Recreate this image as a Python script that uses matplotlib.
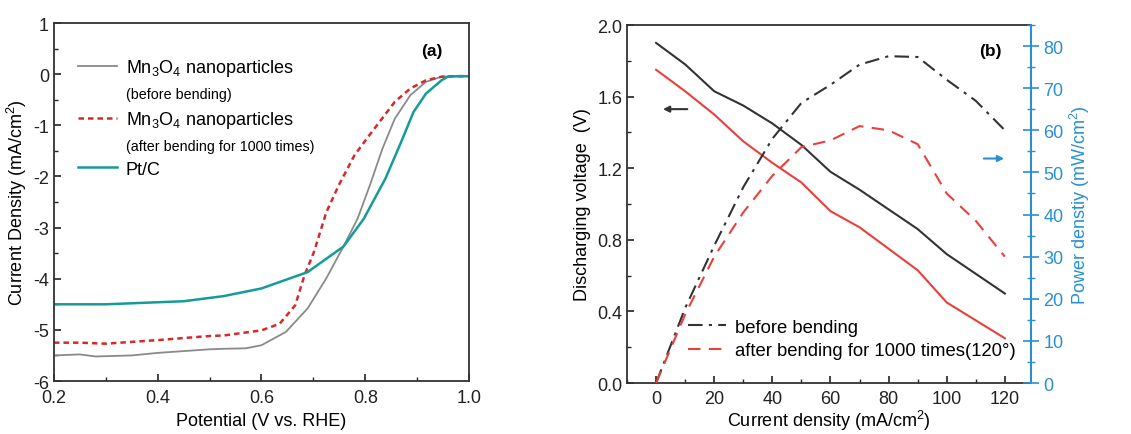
import numpy as np
import matplotlib

matplotlib.use('Agg')
import matplotlib.pyplot as plt
from matplotlib.lines import Line2D
from matplotlib.ticker import MultipleLocator

plt.rcParams['font.family'] = ['Liberation Sans', 'DejaVu Sans']
plt.rcParams['mathtext.fontset'] = 'custom'
plt.rcParams['mathtext.rm'] = 'Liberation Sans'
plt.rcParams['axes.unicode_minus'] = False

# panel (a): LSV curves
pot_grey = [0.20, 0.25, 0.28, 0.35, 0.40, 0.50, 0.527, 0.57, 0.60, 0.647, 0.689, 0.725,
            0.758, 0.785, 0.809, 0.833, 0.857, 0.887, 0.917, 0.947, 0.97, 1.00]
cur_grey = [-5.50, -5.48, -5.52, -5.50, -5.45, -5.38, -5.37, -5.36, -5.30, -5.04, -4.58, -3.99,
            -3.37, -2.83, -2.17, -1.46, -0.87, -0.41, -0.15, -0.05, -0.04, -0.04]
pot_red = [0.20, 0.25, 0.30, 0.40, 0.50, 0.527, 0.60, 0.635, 0.665, 0.683, 0.701, 0.725,
           0.749, 0.779, 0.803, 0.827, 0.857, 0.887, 0.917, 0.947, 0.97, 1.00]
cur_red = [-5.25, -5.25, -5.27, -5.20, -5.12, -5.11, -5.01, -4.88, -4.52, -3.93, -3.48, -2.70,
           -2.17, -1.59, -1.26, -0.94, -0.54, -0.28, -0.12, -0.05, -0.04, -0.04]
pot_pt = [0.20, 0.30, 0.40, 0.45, 0.527, 0.60, 0.689, 0.758, 0.797, 0.839, 0.869, 0.893,
          0.917, 0.947, 0.959, 0.98, 1.00]
cur_pt = [-4.50, -4.50, -4.46, -4.44, -4.34, -4.19, -3.87, -3.37, -2.83, -2.04, -1.33, -0.74,
          -0.38, -0.12, -0.05, -0.04, -0.04]

# panel (b): discharge / power
cd = [0, 10, 20, 30, 40, 50, 60, 70, 80, 90, 100, 110, 120]
volt_before = [1.90, 1.78, 1.63, 1.55, 1.45, 1.33, 1.18, 1.08, 0.97, 0.86, 0.72, 0.61, 0.50]
volt_after = [1.75, 1.63, 1.50, 1.35, 1.23, 1.12, 0.96, 0.87, 0.75, 0.63, 0.45, 0.35, 0.25]
pow_before = [0, 17.8, 32.6, 46.5, 58.0, 66.5, 70.8, 75.6, 77.6, 77.4, 72.0, 67.0, 60.0]
pow_after = [0, 16.3, 30.0, 40.5, 49.2, 56.0, 57.6, 61.0, 60.0, 56.7, 45.0, 38.5, 30.0]

dark = '#333333'
blue = '#2a8fcf'
red_b = '#e8403c'
fs = 13

fig = plt.figure(figsize=(11.31, 4.35), dpi=100)

# ---- (a)
ax = fig.add_axes([0.0477, 0.1218, 0.367, 0.823])
ax.plot(pot_grey, cur_grey, color='#8a8a8a', lw=1.3)
ax.plot(pot_red, cur_red, color='#d42a2a', lw=1.8, ls=(0, (2.2, 1.6)))
ax.plot(pot_pt, cur_pt, color='#169b9b', lw=1.8)
ax.set_xlim(0.2, 1.0)
ax.set_ylim(-6, 1)
ax.xaxis.set_major_locator(MultipleLocator(0.2))
ax.xaxis.set_minor_locator(MultipleLocator(0.1))
ax.yaxis.set_major_locator(MultipleLocator(1))
ax.yaxis.set_minor_locator(MultipleLocator(0.5))
ax.tick_params(which='both', direction='in', labelsize=fs, colors='#222222')
ax.tick_params(which='major', length=5, width=1.2)
ax.tick_params(which='minor', length=3, width=1.0)
ax.tick_params(axis='x', pad=6)
for s in ax.spines.values():
    s.set_linewidth(1.3)
    s.set_color('#333333')
ax.set_xlabel('Potential (V vs. RHE)', fontsize=fs, labelpad=4)
ax.set_ylabel('Current Density (mA/cm$^2$)', fontsize=fs, labelpad=3)
ax.text(0.928, 0.47, '(a)', fontsize=12.5, fontweight='bold', ha='center', va='center')

handles = [Line2D([], [], color='#8a8a8a', lw=1.3),
           Line2D([], [], color='none'),
           Line2D([], [], color='#d42a2a', lw=1.8, ls=(0, (2.2, 1.6))),
           Line2D([], [], color='none'),
           Line2D([], [], color='#169b9b', lw=1.8)]
labels = ['Mn$_3$O$_4$ nanoparticles', '(before bending)',
          'Mn$_3$O$_4$ nanoparticles', '(after bending for 1000 times)', 'Pt/C']
leg = ax.legend(handles, labels, loc='upper left', bbox_to_anchor=(0.058, 0.905),
                frameon=False, fontsize=fs, handlelength=2.15, handletextpad=0.5,
                labelspacing=0.42, borderpad=0, borderaxespad=0)
leg.get_texts()[1].set_fontsize(10.3)
leg.get_texts()[3].set_fontsize(10.3)

# ---- (b)
bx = fig.add_axes([0.5544, 0.1172, 0.3572, 0.823])
bx.plot(cd, volt_before, color=dark, lw=1.5)
bx.plot(cd, volt_after, color=red_b, lw=1.5)
bx.set_xlim(-10, 129)
bx.set_ylim(0, 2.0)
bx.xaxis.set_major_locator(MultipleLocator(20))
bx.xaxis.set_minor_locator(MultipleLocator(10))
bx.yaxis.set_major_locator(MultipleLocator(0.4))
bx.yaxis.set_minor_locator(MultipleLocator(0.2))
bx.tick_params(which='both', direction='in', labelsize=fs, colors='#222222', top=False)
bx.tick_params(which='major', length=5, width=1.2)
bx.tick_params(which='minor', length=3, width=1.0)
bx.tick_params(axis='x', pad=5)
for s in bx.spines.values():
    s.set_linewidth(1.3)
    s.set_color('#333333')
bx.set_xlabel('Current density (mA/cm$^2$)', fontsize=fs, labelpad=1)
bx.set_ylabel('Discharging voltage  (V)', fontsize=fs)
bx.annotate('', xy=(1.4, 1.53), xytext=(11.7, 1.53),
            arrowprops=dict(arrowstyle='-|>', color=dark, lw=1.5, mutation_scale=9))
bx.text(115, 1.855, '(b)', fontsize=12.5, fontweight='bold', ha='center', va='center')

px = bx.twinx()
px.plot(cd, pow_before, color=dark, lw=1.5, ls=(0, (7, 3, 1.5, 3)))
px.plot(cd, pow_after, color=red_b, lw=1.5, ls=(0, (6, 4)))
px.set_ylim(0, 85)
px.yaxis.set_major_locator(MultipleLocator(10))
px.yaxis.set_minor_locator(MultipleLocator(5))
px.tick_params(which='both', direction='inout', labelsize=fs, colors=blue)
px.tick_params(which='major', length=11, width=1.2)
px.tick_params(which='minor', length=6, width=1.0)
px.spines['right'].set_color(blue)
px.spines['right'].set_linewidth(1.5)
for k in ['left', 'top', 'bottom']:
    px.spines[k].set_visible(False)
px.set_ylabel('Power denstiy (mW/cm$^2$)', fontsize=fs, color=blue, labelpad=3)
px.annotate('', xy=(120.7, 53.3), xytext=(111.8, 53.3),
            arrowprops=dict(arrowstyle='-|>', color=blue, lw=1.5, mutation_scale=9))

lh = [Line2D([], [], color=dark, lw=1.5, ls=(0, (7, 3, 1.5, 3))),
      Line2D([], [], color=red_b, lw=1.5, ls=(0, (6, 4)))]
px.legend(lh, ['before bending', 'after bending for 1000 times(120°)'],
          loc='lower left', bbox_to_anchor=(0.151, 0.066), frameon=False, fontsize=13.3,
          handlelength=2.07, handletextpad=0.45, labelspacing=0.35,
          borderpad=0, borderaxespad=0)

fig.savefig('out.png', dpi=100)
